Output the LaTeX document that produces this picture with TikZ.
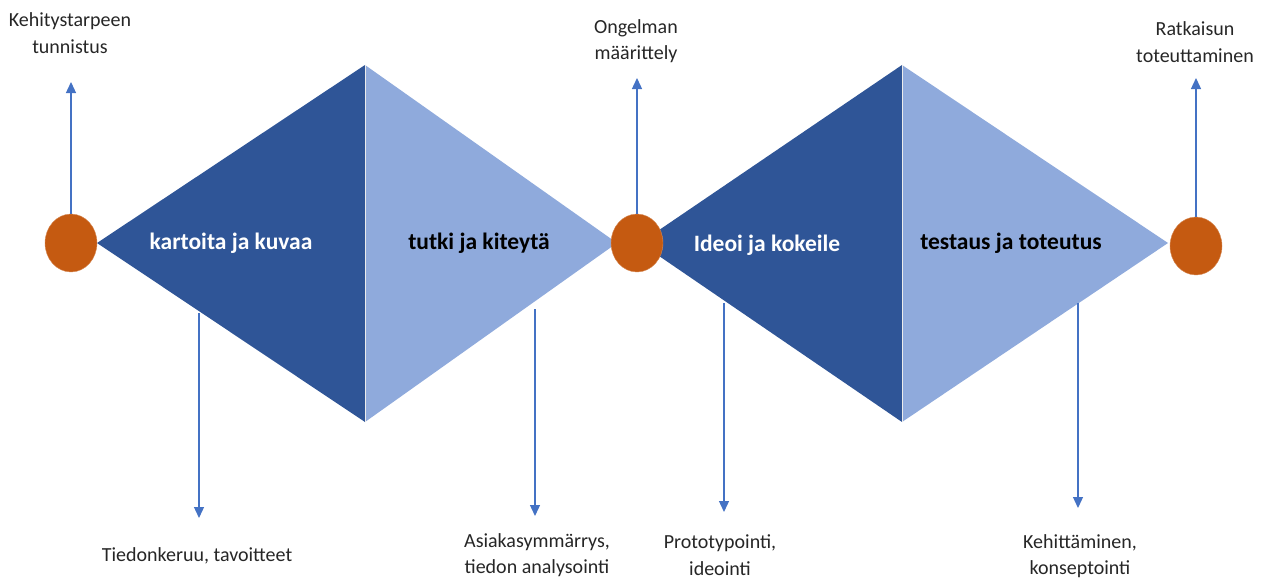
\documentclass[tikz,border=0pt]{standalone}
\usepackage{fontspec}
\setmainfont{Carlito}
\usetikzlibrary{arrows.meta,shapes.geometric}
\definecolor{darkb}{HTML}{2F5597}
\definecolor{lightb}{HTML}{8FAADC}
\definecolor{orng}{HTML}{C55A11}
\definecolor{arrb}{HTML}{4472C4}
\definecolor{txt}{HTML}{262626}
\begin{document}
\begin{tikzpicture}[x=1pt,y=-1pt,
  dot/.style={ellipse,fill=orng,draw=orng!70!white,line width=0.4pt,minimum width=52pt,minimum height=58pt,inner sep=0pt},
  phase/.style={font=\fontsize{23.5}{28}\selectfont\bfseries},
  lbl/.style={font=\fontsize{20}{26.5}\selectfont,text=txt,align=center,inner sep=0pt},
  arr/.style={draw=arrb,line width=1.3pt,-{Triangle[length=11pt,width=10pt]}},
  ]
\useasboundingbox (0,0) rectangle (1266,578);
% triangles
\fill[darkb] (97,243) -- (365,65) -- (365,422) -- cycle;
\fill[lightb] (365,65) -- (617,243) -- (365,422) -- cycle;
\fill[darkb] (640,243) -- (902,65) -- (902,422) -- cycle;
\fill[lightb] (902,65) -- (1168,243) -- (902,422) -- cycle;
\draw[white!85!gray,line width=0.6pt] (365,65) -- (365,422);
\draw[white!85!gray,line width=0.6pt] (902,65) -- (902,422);
% circles
\node[dot] (c1) at (71,243) {};
\node[dot] (c2) at (637,243) {};
\node[dot] (c3) at (1196,246) {};
% phase labels
\node[phase,text=white] (p1) at (231,243) {kartoita ja kuvaa};
\node[phase,text=black] (p2) at (479,243) {tutki ja kiteytä};
\node[phase,text=white] (p3) at (767,245) {Ideoi ja kokeile};
\node[phase,text=black] (p4) at (1011,243) {testaus ja toteutus};
% top arrows
\coordinate (t1) at (71,82);
\coordinate (t2) at (637,78);
\coordinate (t3) at (1196,78);
\draw[arr] (c1.north) -- (t1);
\draw[arr] (c2.north) -- (t2);
\draw[arr] (c3.north) -- (t3);
% bottom arrows
\coordinate (s1) at (199,313); \coordinate (e1) at (199,518);
\coordinate (s2) at (535,309); \coordinate (e2) at (535,516);
\coordinate (s3) at (724,303); \coordinate (e3) at (724,512);
\coordinate (s4) at (1078,303); \coordinate (e4) at (1078,508);
\draw[arr] (s1) -- (e1);
\draw[arr] (s2) -- (e2);
\draw[arr] (s3) -- (e3);
\draw[arr] (s4) -- (e4);
% top labels
\node[lbl] (l1) at (70,33) {Kehitystarpeen\\tunnistus};
\node[lbl] (l2) at (636,41) {Ongelman\\määrittely};
\node[lbl] (l3) at (1195,42) {Ratkaisun\\toteuttaminen};
% bottom labels
\node[lbl] (b1) at (197,556) {Tiedonkeruu, tavoitteet};
\node[lbl] (b2) at (537,555) {Asiakasymmärrys,\\tiedon analysointi};
\node[lbl] (b3) at (720,555) {Prototypointi,\\ideointi};
\node[lbl] (b4) at (1080,556) {Kehittäminen,\\konseptointi};
\end{tikzpicture}
\end{document}
